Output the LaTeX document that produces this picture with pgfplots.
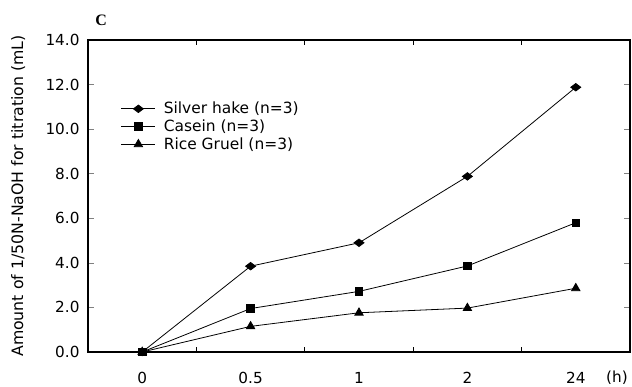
\documentclass[border=0pt]{standalone}
\usepackage{pgfplots}
\pgfplotsset{compat=1.18}
\usepackage{fontspec}
\setmainfont{DejaVu Sans}
\newfontfamily\seriffont{Liberation Serif}
\begin{document}
\begin{tikzpicture}
\useasboundingbox (-88bp,-35bp) rectangle (544bp,352bp);
\begin{axis}[
  scale only axis,
  width=542bp, height=312bp,
  xmin=-0.5, xmax=4.5,
  ymin=0, ymax=14,
  xtick={0,1,2,3,4},
  xticklabels={0,0.5,1,2,24},
  minor xtick={0.5,1.5,2.5,3.5},
  ytick={0,2,...,14},
  yticklabel={\pgfmathprintnumber[fixed,fixed zerofill,precision=1]{\tick}},
  /pgf/number format/assume math mode=true,
  tick align=inside,
  x tick style={draw=none},
  minor x tick style={draw=black, line width=0.7pt},
  minor tick length=5bp,
  major tick length=6bp,
  y tick style={line width=0.7pt},
  axis line style={line width=1.4pt},
  every tick label/.append style={font=\fontsize{15.3}{17}\selectfont},
  xticklabel style={anchor=base, yshift=-31bp},
  yticklabel style={xshift=-5bp},
  ylabel={Amount of 1/50N-NaOH for titration (mL)},
  ylabel style={font=\fontsize{15.8}{17}\selectfont, at={(axis description cs:-0.129,0.5)}, anchor=center},
  legend style={draw=none, fill=none, at={(axis description cs:0.055,0.814)}, anchor=north west, font=\fontsize{15.5}{17}\selectfont, row sep=0.5bp, column sep=6bp, legend cell align=left},
  legend image code/.code={\draw[#1] (0bp,0bp) -- (34bp,0bp); \draw[#1, only marks] plot coordinates {(17bp,0bp)};},
  clip=false,
]
\addplot[black, line width=0.8pt, mark=diamond*, mark size=5bp, mark options={rotate=90}] coordinates {(0,0) (1,3.85) (2,4.9) (3,7.88) (4,11.88)};
\addlegendentry{Silver hake (n=3)}
\addplot[black, line width=0.8pt, mark=square*, mark size=3.8bp] coordinates {(0,0) (1,1.95) (2,2.72) (3,3.86) (4,5.8)};
\addlegendentry{Casein (n=3)}
\addplot[black, line width=0.8pt, mark=triangle*, mark size=4.8bp] coordinates {(0,0) (1,1.15) (2,1.76) (3,1.97) (4,2.86)};
\addlegendentry{Rice Gruel (n=3)}
\node[font=\seriffont\bfseries\fontsize{16}{17}\selectfont, anchor=base west] at (axis description cs:0.007,1.048) {C};
\node[font=\fontsize{15.3}{17}\selectfont, anchor=base] at (axis description cs:0.976,-0.099) {(h)};
\end{axis}
\end{tikzpicture}
\end{document}
